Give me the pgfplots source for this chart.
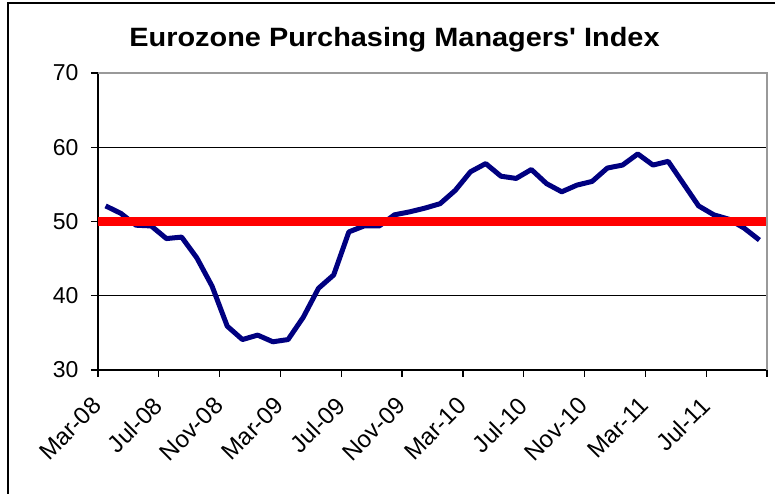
\documentclass[border=0pt]{standalone}
\usepackage{pgfplots}
\pgfplotsset{compat=1.18}
\usepackage{fontspec}
\setmainfont{Liberation Sans}[Ligatures=TeXOff]
\definecolor{pmiblue}{RGB}{0,0,128}
\definecolor{pmired}{RGB}{255,0,0}
\begin{document}
\begin{tikzpicture}
\begin{axis}[
  at={(98pt,124pt)}, anchor=south west,
  scale only axis, width=669pt, height=297pt,
  xmin=0, xmax=44, ymin=30, ymax=70,
  axis x line*=bottom, axis y line*=left,
  axis line style={black, line width=1.3pt},
  xtick={0,4,...,44},
  xticklabels={Mar-08,Jul-08,Nov-08,Mar-09,Jul-09,Nov-09,Mar-10,Jul-10,Nov-10,Mar-11,Jul-11,},
  ytick={30,40,50,60,70},
  tick align=outside, tick pos=left,
  major tick length=7pt,
  every tick/.style={black, line width=1.3pt},
  ymajorgrids, major grid style={black, line width=1pt},
  /pgf/number format/assume math mode=true,
  ticklabel style={font=\fontsize{23}{27}\selectfont},
  yticklabel style={anchor=east, xshift=-9pt},
  xticklabel style={yshift=-17pt, xshift=-7pt, rotate=45, anchor=north east, inner sep=1pt, font=\fontsize{24}{28}\selectfont},
  clip=false,
]
\addplot[pmiblue, line width=5pt, line join=round] coordinates {
(0.5,52.1) (1.5,51.1) (2.5,49.5) (3.5,49.4) (4.5,47.7) (5.5,47.9)
(6.5,45.1) (7.5,41.3) (8.5,35.9) (9.5,34.1) (10.5,34.7) (11.5,33.8)
(12.5,34.1) (13.5,37.1) (14.5,41.0) (15.5,42.8) (16.5,48.6) (17.5,49.4)
(18.5,49.4) (19.5,50.9) (20.5,51.3) (21.5,51.8) (22.5,52.4) (23.5,54.2)
(24.5,56.7) (25.5,57.8) (26.5,56.1) (27.5,55.8) (28.5,57.0) (29.5,55.1)
(30.5,54.0) (31.5,54.9) (32.5,55.4) (33.5,57.2) (34.5,57.6) (35.5,59.1)
(36.5,57.6) (37.5,58.1) (38.5,55.1) (39.5,52.1) (40.5,50.9) (41.5,50.3)
(42.5,49.1) (43.5,47.5)
};
\addplot[pmired, line width=8.5pt] coordinates {(0,50) (44,50)};
\draw[gray!80, line width=1.3pt] (rel axis cs:0,1) -- (rel axis cs:1,1) -- (rel axis cs:1,0);
\end{axis}
\node[anchor=base, font=\bfseries\fontsize{26.5}{30}\selectfont, inner sep=0pt] at (394.5pt,447pt) {\scalebox{1.09}[1]{Eurozone Purchasing Managers' Index}};
\draw[black, line width=2pt] (8.3pt,-50pt) -- (8.3pt,490.7pt) -- (820pt,490.7pt);
\pgfresetboundingbox
\path[use as bounding box] (0,0) rectangle (775pt,494pt);
\end{tikzpicture}
\end{document}
